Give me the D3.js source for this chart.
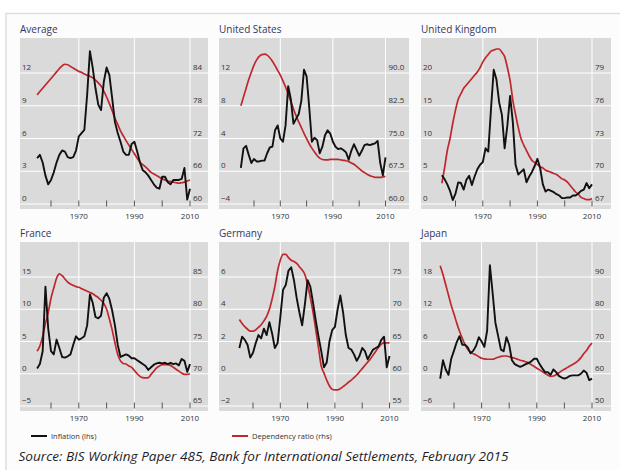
<!DOCTYPE html>
<html><head><meta charset="utf-8">
<script src="https://cdn.jsdelivr.net/npm/d3@7"></script>
<style>body{margin:0;background:#fff}svg{display:block}text{font-family:"Open Sans",sans-serif}</style>
</head><body><svg id="c" width="620" height="470"></svg>
<script>
// ---------- DATA (annual, 1955-2010) ----------
const years = d3.range(1955, 2011);

const avgInfl = [4.2,4.5,3.8,2.6,1.8,
  2.2,2.9,3.8,4.5,4.9,4.8,4.3,4.2,4.3,4.9,
  6.2,6.5,6.8,10.0,14.0,12.5,10.6,9.1,8.6,11.2,
  12.5,11.8,9.7,7.5,6.5,5.7,4.8,4.5,4.5,5.5,
  5.7,4.8,3.8,3.1,2.9,2.6,2.2,1.8,1.5,1.4,
  2.5,2.5,2.0,1.8,2.2,2.2,2.2,2.3,3.3,0.4,1.4];
const avgDep = [80.0,80.6,81.2,81.8,82.4,
  83.0,83.6,84.2,84.8,85.3,85.6,85.5,85.2,84.9,84.6,
  84.3,84.1,83.8,83.6,83.4,83.1,82.7,82.2,81.6,80.7,
  79.6,78.4,77.1,75.7,74.6,73.4,72.5,71.6,70.8,70.0,
  69.2,68.4,67.7,67.2,66.8,66.3,65.8,65.5,65.2,64.9,
  64.6,64.4,64.2,64.1,64.0,63.9,63.8,63.9,64.0,64.2,64.4];

const usInfl = [0.4,2.8,3.1,2.0,1.0,
  1.5,1.2,1.2,1.3,1.3,2.2,2.9,3.0,5.0,5.6,
  4.0,3.6,5.6,10.4,8.8,5.8,6.4,7.0,8.6,12.4,
  11.6,7.8,3.6,4.1,3.8,2.2,3.0,4.4,5.0,4.6,
  3.6,3.0,2.7,2.8,2.6,2.3,1.4,2.5,3.3,2.6,
  1.9,2.5,3.2,3.3,3.2,3.3,3.4,3.7,1.0,-0.5,1.7];
const usDep = [82.5,84.5,86.5,88.5,90.2,
  91.8,93.0,93.8,94.2,94.3,94.1,93.5,92.7,91.7,90.6,
  89.5,88.2,86.8,85.2,83.5,81.8,80.2,78.8,77.5,76.2,
  75.0,73.8,72.8,71.9,71.1,70.5,70.2,70.1,70.1,70.2,
  70.2,70.2,70.2,70.1,70.0,69.9,69.7,69.4,69.1,68.6,
  68.1,67.6,67.2,66.8,66.5,66.3,66.1,66.1,66.1,66.2,66.3];

const ukInfl = [4.4,3.8,3.0,2.0,0.6,
  1.6,3.3,3.2,2.2,3.7,4.3,2.9,4.2,5.3,6.0,
  6.4,8.5,8.0,14.5,20.5,19.0,15.5,13.6,8.5,12.0,
  16.5,12.5,6.0,4.5,4.9,5.3,3.3,4.2,4.9,5.8,
  6.9,5.5,3.0,1.9,2.2,2.0,1.8,1.5,1.3,0.9,
  0.9,1.0,1.0,1.3,1.3,1.6,2.0,2.2,3.2,2.4,3.0];
const ukDep = [68.9,70.3,71.9,73.0,74.4,
  75.6,76.6,77.1,77.6,77.9,78.2,78.5,78.8,79.1,79.5,
  80.0,80.4,80.7,81.0,81.1,81.2,81.2,80.9,80.5,79.5,
  78.3,76.5,75.2,74.0,73.0,72.4,71.9,71.4,71.0,70.8,
  70.6,70.4,70.3,70.1,70.0,69.9,69.8,69.7,69.5,69.3,
  69.2,69.0,68.7,68.4,68.1,67.9,67.6,67.5,67.4,67.4,67.5];

const frInfl = [0.8,1.5,3.5,13.5,7.0,
  3.5,3.0,5.3,4.0,2.6,2.5,2.7,3.0,4.5,5.8,
  5.3,5.5,5.8,7.5,12.3,11.0,8.8,8.6,9.0,11.8,
  12.5,11.6,9.8,7.5,4.5,2.6,2.8,3.0,2.8,2.4,
  2.4,2.1,1.8,1.5,1.2,0.6,1.0,1.4,1.6,1.7,
  1.6,1.7,1.5,1.7,1.5,1.6,1.3,2.3,2.0,0.3,1.5];
const frDep = [73.5,74.3,75.8,77.8,79.5,
  81.7,83.3,84.8,85.5,85.2,84.7,84.2,83.9,83.7,83.5,
  83.4,83.2,83.0,82.8,82.6,82.4,82.1,81.8,81.4,80.9,
  80.0,78.5,76.8,74.8,73.0,72.0,71.6,71.5,71.2,71.0,
  70.5,70.0,69.6,69.4,69.35,69.4,69.9,70.4,70.9,71.2,
  71.4,71.4,71.4,71.3,71.0,70.7,70.4,70.1,69.9,69.9,70.0];

const deInfl = [1.6,2.3,2.1,1.8,1.0,
  1.3,1.9,2.4,2.2,2.8,2.4,3.2,2.5,1.6,1.9,
  3.5,5.2,5.5,6.4,6.6,5.8,4.7,3.8,3.0,4.3,
  5.8,5.4,4.4,3.3,2.3,1.4,0.4,0.7,2.0,2.7,
  2.9,4.0,4.85,3.8,2.4,1.6,1.5,1.2,0.8,1.1,
  1.6,1.4,0.9,1.2,1.5,1.6,1.7,2.1,2.3,0.4,1.1];
const deDep = [68.4,67.8,67.3,66.9,66.6,
  66.6,66.8,67.2,67.6,68.2,68.9,70.0,71.6,73.5,76.0,
  77.6,78.5,78.5,78.0,77.6,77.4,77.1,76.6,76.1,75.4,
  73.8,71.8,69.5,66.8,64.0,61.2,60.1,59.0,58.1,57.6,
  57.5,57.5,57.7,58.0,58.3,58.7,59.0,59.4,59.8,60.3,
  60.8,61.3,61.8,62.3,62.9,63.5,64.1,64.6,64.8,64.8,64.8];

const jpInfl = [-0.9,2.5,0.8,-0.2,2.8,
  4.3,5.9,7.0,5.4,5.4,4.9,3.8,4.3,5.2,6.8,
  6.0,5.0,8.0,20.2,15.0,9.5,7.0,4.5,4.2,6.8,
  5.4,2.5,1.8,1.5,1.3,1.5,1.8,2.0,2.3,2.8,
  2.8,1.8,1.0,0.3,0.3,-0.2,0.8,0.3,-0.4,-0.7,
  -0.9,-0.7,-0.4,-0.3,-0.3,-0.3,0.0,0.6,0.2,-1.2,-0.9];
const jpDep = [93.5,90.8,87.6,84.4,81.2,
  78.5,75.7,73.2,71.0,69.0,67.5,66.7,66.2,65.8,65.3,
  64.8,64.6,64.5,64.5,64.5,64.8,65.1,65.4,65.5,65.5,
  65.3,65.0,64.8,64.5,64.2,64.0,63.7,63.4,62.8,62.3,
  61.7,61.2,60.7,60.1,59.6,59.2,59.3,59.7,60.3,60.9,
  61.4,61.9,62.4,62.9,63.4,64.1,65.0,66.2,67.2,68.5,69.5];

const titles = ["Average","United States","United Kingdom","France","Germany","Japan"];
const leftTicks = [[0,3,6,9,12],[-4,0,4,8,12],[0,5,10,15,20],[-5,0,5,10,15],[-2,0,2,4,6],[-6,0,6,12,18]];
const rightTicks = [[60,66,72,78,84],[60,67.5,75,82.5,90],[67,70,73,76,79],[65,70,75,80,85],[55,60,65,70,75],[50,60,70,80,90]];
const rightFmt = ["d",".1f","d","d","d","d"];
const inflSeries = [avgInfl,usInfl,ukInfl,frInfl,deInfl,jpInfl];
const depSeries = [avgDep,usDep,ukDep,frDep,deDep,jpDep];
const yearTicks = [1960,1970,1980,1990,2000,2010];
const yearLabels = [1970,1990,2010];
const yearGrid = [1970,1990,2010];

// ---------- LAYOUT ----------
const colX = [20,219,421], colW = [188,190,190];
const rowY = [38,242], rowH = [171,169];
const pad1960 = [31,35,34.5,31,34,33];   // from left edge to 1960
const pad2010 = [18,23.5,19,18,19.5,19]; // from 2010 to right edge

const svg = d3.select("#c");
svg.append("rect").attr("x",6).attr("y",13.5).attr("width",640).attr("height",480)
  .attr("fill","#fcfcfc").attr("stroke","#dedede").attr("stroke-width",1.5);

titles.forEach((t,i)=>{
  const c = i%3, r = Math.floor(i/3);
  const L = colX[c], W = colW[c], T = rowY[r], H = rowH[r], B = T+H;
  const g = svg.append("g");
  g.append("rect").attr("x",L).attr("y",T).attr("width",W).attr("height",H).attr("fill","#dadada");
  const x = d3.scaleLinear().domain([1960,2010]).range([L+pad1960[i], L+W-pad2010[i]]);
  const lt = leftTicks[i], rt = rightTicks[i];
  const yL = d3.scaleLinear().domain([lt[0], lt[4]]).range([B-5, T+35]);
  const yR = d3.scaleLinear().domain([rt[0], rt[4]]).range([B-5, T+35]);
  g.selectAll(".hg").data(lt).enter().append("line")
    .attr("x1",L).attr("x2",L+W).attr("y1",d=>yL(d)).attr("y2",d=>yL(d))
    .attr("stroke","#fff").attr("stroke-width",1);
  g.selectAll(".vg").data(yearGrid).enter().append("line")
    .attr("x1",d=>x(d)).attr("x2",d=>x(d)).attr("y1",T).attr("y2",B)
    .attr("stroke","#fff").attr("stroke-width",1);
  g.selectAll(".xt").data(yearTicks).enter().append("line")
    .attr("x1",d=>x(d)).attr("x2",d=>x(d)).attr("y1",B-8.5).attr("y2",B-2.5)
    .attr("stroke","#555").attr("stroke-width",1);
  g.selectAll(".ll").data(lt).enter().append("text")
    .attr("x",L+2).attr("y",d=>yL(d)-3).attr("font-size",8).attr("fill","#333")
    .text(d=>d<0? "\u2212"+Math.abs(d) : d);
  const rf = d3.format(rightFmt[i]);
  g.selectAll(".rl").data(rt).enter().append("text")
    .attr("x",x(2010)+3).attr("y",d=>yR(d)-3).attr("font-size",8).attr("fill","#333")
    .text(d=>rf(d));
  g.selectAll(".yl").data(yearLabels).enter().append("text")
    .attr("x",d=>x(d)).attr("y",B+10).attr("text-anchor","middle").attr("font-size",8).attr("fill","#333")
    .text(d=>d);
  g.append("text").attr("x",L).attr("y",T-5).attr("font-size",10).attr("fill","#35355e").text(t);
  const dep = depSeries[i], inf = inflSeries[i];
  const lineR = d3.line().x((d,k)=>x(years[k])).y(d=>yR(d)).curve(d3.curveMonotoneX);
  const lineL = d3.line().x((d,k)=>x(years[k])).y(d=>yL(d));
  g.append("path").attr("d",lineR(dep)).attr("fill","none").attr("stroke","#c0272d").attr("stroke-width",1.7);
  g.append("path").attr("d",lineL(inf)).attr("fill","none").attr("stroke","#111").attr("stroke-width",1.9)
    .attr("stroke-linejoin","round");
});

// legend
const leg = [{label:"Inflation (lhs)", color:"#111", x:31},{label:"Dependency ratio (rhs)", color:"#c0272d", x:232}];
leg.forEach(l=>{
  svg.append("line").attr("x1",l.x).attr("x2",l.x+16).attr("y1",436).attr("y2",436)
    .attr("stroke",l.color).attr("stroke-width",2);
  svg.append("text").attr("x",l.x+20).attr("y",439).attr("font-size",7.5).attr("fill","#333").text(l.label);
});
svg.append("text").attr("x",18.5).attr("y",461).attr("font-size",12.5).attr("font-style","italic")
  .attr("fill","#1e1e2a").attr("textLength",490).attr("lengthAdjust","spacingAndGlyphs")
  .text("Source: BIS Working Paper 485, Bank for International Settlements, February 2015");
</script></body></html>
